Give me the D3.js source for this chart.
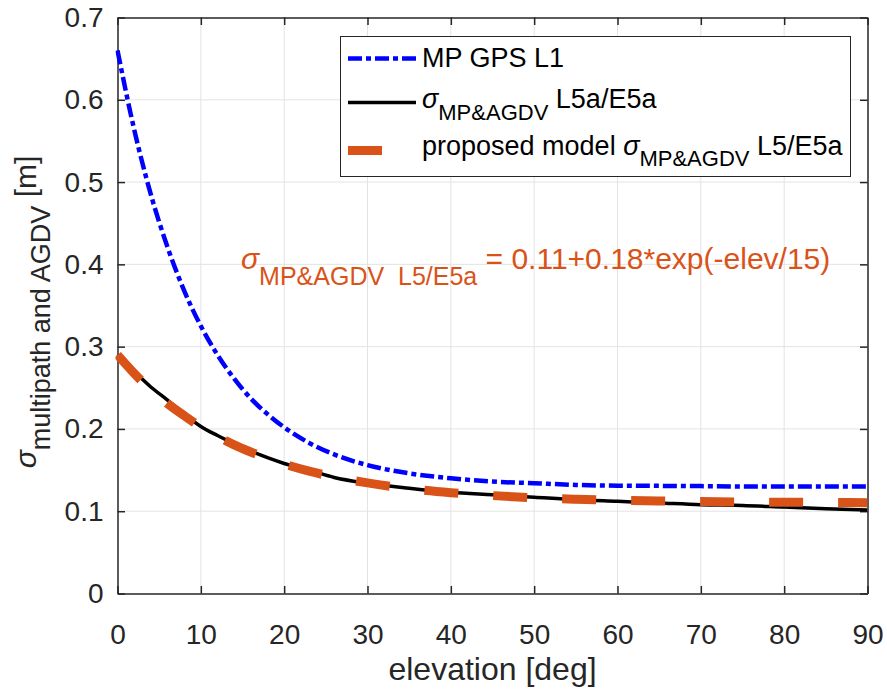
<!DOCTYPE html>
<html>
<head>
<meta charset="utf-8">
<script src="https://cdn.jsdelivr.net/npm/d3@7"></script>
<style>
  body { margin: 0; background: #fff; }
  text { font-family: "Liberation Sans", Arial, sans-serif; white-space: pre; }
</style>
</head>
<body>
<div id="chart"></div>
<script>
// values
var elevation = [0, 2, 4, 6, 8, 10, 12, 14, 16, 18, 20, 23, 26, 30, 35, 40, 45, 50, 55, 60, 65, 70, 75, 80, 85, 90];
var mpGpsL1 = [0.660, 0.564, 0.485, 0.421, 0.368, 0.325, 0.290, 0.261, 0.237, 0.218, 0.202, 0.183, 0.169, 0.156, 0.146, 0.140, 0.136, 0.134, 0.132, 0.131, 0.1308, 0.1305, 0.130, 0.130, 0.130, 0.130];
var sigmaL5 = [0.290, 0.270, 0.251, 0.235, 0.218, 0.203, 0.192, 0.182, 0.173, 0.165, 0.158, 0.150, 0.141, 0.134, 0.128, 0.123, 0.120, 0.117, 0.114, 0.112, 0.110, 0.108, 0.107, 0.105, 0.103, 0.1015];
var modelL5 = [0.290, 0.2675, 0.2476, 0.2307, 0.2161, 0.2024, 0.1909, 0.1807, 0.1720, 0.1642, 0.1574, 0.1487, 0.1416, 0.1344, 0.1274, 0.1225, 0.1190, 0.1164, 0.1146, 0.1133, 0.1124, 0.1117, 0.1112, 0.1109, 0.1106, 0.1104];
var xTicks = [0, 10, 20, 30, 40, 50, 60, 70, 80, 90];
var yTicks = [0, 0.1, 0.2, 0.3, 0.4, 0.5, 0.6, 0.7];

var W = 887, H = 690;
var pLeft = 117.5, pRight = 867.5, pTop = 17.5, pBottom = 593.5;
var axisColor = "#262626";

var svg = d3.select("#chart").append("svg")
    .attr("width", W)
    .attr("height", H);

var x = d3.scaleLinear().domain([0, 90]).range([pLeft, pRight]);
var y = d3.scaleLinear().domain([0, 0.7]).range([pBottom, pTop]);

// grid
svg.append("g").selectAll("line").data(xTicks.slice(1, -1)).enter().append("line")
    .attr("x1", function(d) { return x(d); }).attr("x2", function(d) { return x(d); })
    .attr("y1", pTop).attr("y2", pBottom)
    .attr("stroke", "#e3e3e3").attr("stroke-width", 1);
svg.append("g").selectAll("line").data(yTicks.slice(1, -1)).enter().append("line")
    .attr("y1", function(d) { return y(d); }).attr("y2", function(d) { return y(d); })
    .attr("x1", pLeft).attr("x2", pRight)
    .attr("stroke", "#e3e3e3").attr("stroke-width", 1);

// axes, ticks pointing inwards
function styleAxis(g) {
  g.selectAll("path").attr("stroke", axisColor).attr("stroke-width", 1.5);
  g.selectAll("line").attr("stroke", axisColor).attr("stroke-width", 1.5);
  g.selectAll("text").attr("fill", axisColor).style("font-size", "28px")
    .style("font-family", "'Liberation Sans', Arial, sans-serif");
}
svg.append("g")
    .attr("transform", "translate(0," + pBottom + ")")
    .call(d3.axisBottom(x).tickValues(xTicks).tickSizeInner(-7.5).tickSizeOuter(0).tickPadding(31).tickFormat(d3.format("d")))
    .call(styleAxis);
svg.append("g")
    .attr("transform", "translate(0," + pTop + ")")
    .call(d3.axisTop(x).tickValues(xTicks).tickSizeInner(-7.5).tickSizeOuter(0).tickFormat(""))
    .call(styleAxis);
svg.append("g")
    .attr("transform", "translate(" + pLeft + ",0)")
    .call(d3.axisLeft(y).tickValues(yTicks).tickSizeInner(-7.5).tickSizeOuter(0).tickPadding(14)
      .tickFormat(function(d) { return d === 0 ? "0" : d3.format(".1f")(d); }))
    .call(styleAxis);
svg.append("g")
    .attr("transform", "translate(" + pRight + ",0)")
    .call(d3.axisRight(y).tickValues(yTicks).tickSizeInner(-7.5).tickSizeOuter(0).tickFormat(""))
    .call(styleAxis);

// curves
svg.append("clipPath").attr("id", "plotClip").append("rect")
    .attr("x", pLeft - 2).attr("y", pTop).attr("width", pRight - pLeft + 2).attr("height", pBottom - pTop);

var plot = svg.append("g").attr("clip-path", "url(#plotClip)");

function lineFor(values) {
  return d3.line()
    .x(function(d, i) { return x(elevation[i]); })
    .y(function(d) { return y(d); })
    .curve(d3.curveMonotoneX)(values);
}

plot.append("path").attr("d", lineFor(mpGpsL1))
    .attr("fill", "none").attr("stroke", "#0000ff").attr("stroke-width", 4.5)
    .attr("stroke-dasharray", "14,4,5,4");
plot.append("path").attr("d", lineFor(sigmaL5))
    .attr("fill", "none").attr("stroke", "#000000").attr("stroke-width", 3.5);
plot.append("path").attr("d", lineFor(modelL5))
    .attr("fill", "none").attr("stroke", "#D95319").attr("stroke-width", 9)
    .attr("stroke-dasharray", "34,35");

// annotation
var ann = svg.append("text").attr("x", 241).attr("y", 269).attr("fill", "#D95319").style("font-size", "30px");
ann.append("tspan").style("font-style", "italic").text("σ");
ann.append("tspan").attr("dy", 16).style("font-size", "25px").text("MP&AGDV  L5/E5a");
ann.append("tspan").attr("dy", -16).text(" = 0.11+0.18*exp(-elev/15)");

// legend
var leg = svg.append("g");
leg.append("rect").attr("x", 340.5).attr("y", 36.5).attr("width", 510).attr("height", 140)
    .attr("fill", "#fff").attr("stroke", axisColor).attr("stroke-width", 1);
leg.append("line").attr("x1", 348).attr("x2", 416).attr("y1", 58.6).attr("y2", 58.6)
    .attr("stroke", "#0000ff").attr("stroke-width", 4.5).attr("stroke-dasharray", "14,4,5,4");
leg.append("line").attr("x1", 348).attr("x2", 416).attr("y1", 102.4).attr("y2", 102.4)
    .attr("stroke", "#000").attr("stroke-width", 3.5);
leg.append("line").attr("x1", 348).attr("x2", 382).attr("y1", 150.5).attr("y2", 150.5)
    .attr("stroke", "#D95319").attr("stroke-width", 9);

leg.append("text").attr("x", 422).attr("y", 67.4).style("font-size", "27px").text("MP GPS L1");
var t2 = leg.append("text").attr("x", 422).attr("y", 107.7).style("font-size", "27px");
t2.append("tspan").style("font-style", "italic").text("σ");
t2.append("tspan").attr("dy", 12).style("font-size", "22px").text("MP&AGDV");
t2.append("tspan").attr("dy", -12).text(" L5a/E5a");
var t3 = leg.append("text").attr("x", 422).attr("y", 155).style("font-size", "27px");
t3.append("tspan").text("proposed model ");
t3.append("tspan").style("font-style", "italic").text("σ");
t3.append("tspan").attr("dy", 11).style("font-size", "22px").text("MP&AGDV");
t3.append("tspan").attr("dy", -11).text(" L5/E5a");

// axis labels
svg.append("text").attr("x", (pLeft + pRight) / 2).attr("y", 680)
    .attr("text-anchor", "middle").attr("fill", axisColor).style("font-size", "32px")
    .text("elevation [deg]");

var yl = svg.append("text")
    .attr("transform", "translate(36,312) rotate(-90)")
    .attr("text-anchor", "middle").attr("fill", axisColor).style("font-size", "30px");
yl.append("tspan").style("font-style", "italic").text("σ");
yl.append("tspan").attr("dy", 14).style("font-size", "27px").text("multipath and AGDV");
yl.append("tspan").attr("dy", -14).text(" [m]");
</script>
</body>
</html>
